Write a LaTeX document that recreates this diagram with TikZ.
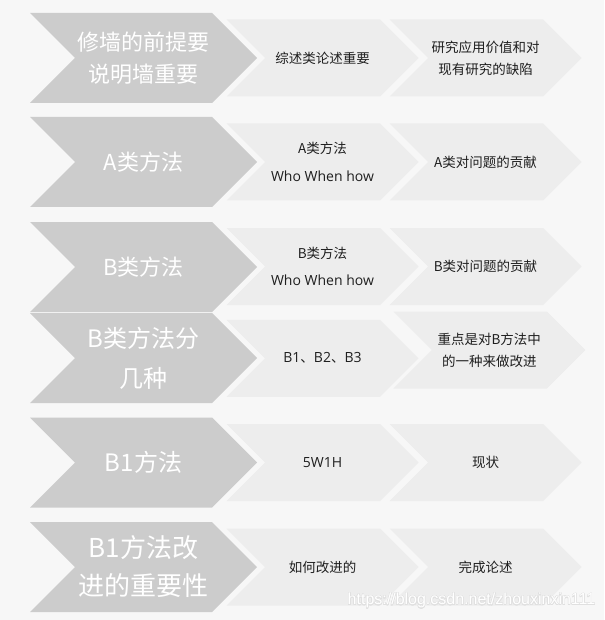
\documentclass[tikz,border=0pt]{standalone}
\usepackage{fontspec}
\setmainfont{Noto Sans CJK SC}
\newfontfamily\markfont{Liberation Sans}
\newfontfamily\latinfont{Open Sans}
\usepackage{contour}
\contourlength{0.35pt}
\definecolor{bggray}{HTML}{F7F7F7}
\definecolor{headgray}{HTML}{CCCCCC}
\definecolor{itemgray}{HTML}{EDEDED}
\tikzset{
headtext/.style={ % Text on the big chevrons
text=white,
align=center,
font=\fontsize{22}{32}\selectfont},
itemtext/.style={ % Text on the small chevrons
text=black!88,
align=center,
font=\fontsize{13.5}{22}\selectfont},
marktext/.style={ % Watermark
text=white,
font=\markfont\fontsize{16}{16}\selectfont}}
% chevron: fill colour, centre x, centre y, half body, half height
\newcommand{\chevron}[5]{%
\fill[#1] ({#2-#4-#5},{#3-#5}) -- ({#2+#4},{#3-#5}) -- ({#2+#4+#5},{#3})
-- ({#2+#4},{#3+#5}) -- ({#2-#4-#5},{#3+#5}) -- ({#2-#4},{#3}) -- cycle;}
% big chevron: options, name, centre y, text
\newcommand{\headchev}[4][]{%
\chevron{headgray}{143.5}{#3}{68.5}{45}
\node[headtext,#1] (#2) at (143.5,#3) {#4};}
% small chevron: options, name, centre x, centre y, text
\newcommand{\itemchev}[5][]{%
\chevron{itemgray}{#3}{#4}{57.5}{38.5}
\node[itemtext,#1] (#2) at (#3,#4) {#5};}
\newcommand{\lat}[1]{{\latinfont\fontsize{14}{14}\selectfont #1}}

\begin{document}
\begin{tikzpicture}[x=1pt,y=-1pt]
\fill[bggray] (0,0) rectangle (604,620);
\headchev{wall}{58}{修墙的前提要\\说明墙重要}
\itemchev{review}{322.5}{58}{综述类论述重要}
\itemchev{gap}{485.5}{58}{研究应用价值和对\\现有研究的缺陷}
\headchev{amethod}{162}{A类方法}
\itemchev[font=\fontsize{13.5}{27.5}\selectfont]{awho}{322.5}{162}{A类方法\\\lat{Who When how}}
\itemchev{acontrib}{485.5}{162}{A类对问题的贡献}
\headchev{bmethod}{267}{B类方法}
\itemchev[font=\fontsize{13.5}{27.5}\selectfont]{bwho}{322.5}{266.5}{B类方法\\\lat{Who When how}}
\itemchev{bcontrib}{485.5}{266.5}{B类对问题的贡献}
\headchev[font=\fontsize{24}{40}\selectfont]{bkinds}{358}{B类方法分\\几种}
\itemchev{blist}{322.5}{358.3}{\lat{B1}、\lat{B2}、\lat{B3}}
\itemchev{bfocus}{489.3}{350}{重点是对B方法中\\的一种来做改进}
\headchev[font=\fontsize{24}{34}\selectfont]{bone}{462.5}{B1方法}
\itemchev{fivew}{322.5}{462.5}{\lat{5W1H}}
\itemchev{state}{485.5}{462.5}{现状}
\headchev[font=\fontsize{26}{38}\selectfont]{boneimp}{567}{B1方法改\\进的重要性}
\itemchev{improve}{322.5}{567}{如何改进的}
\itemchev{finish}{485.5}{567}{完成论述}
\node[marktext] (mark) at (471.5,601) {\contour{black!12}{https://blog.csdn.net/zhouxinxin111}};
\end{tikzpicture}
\end{document}
